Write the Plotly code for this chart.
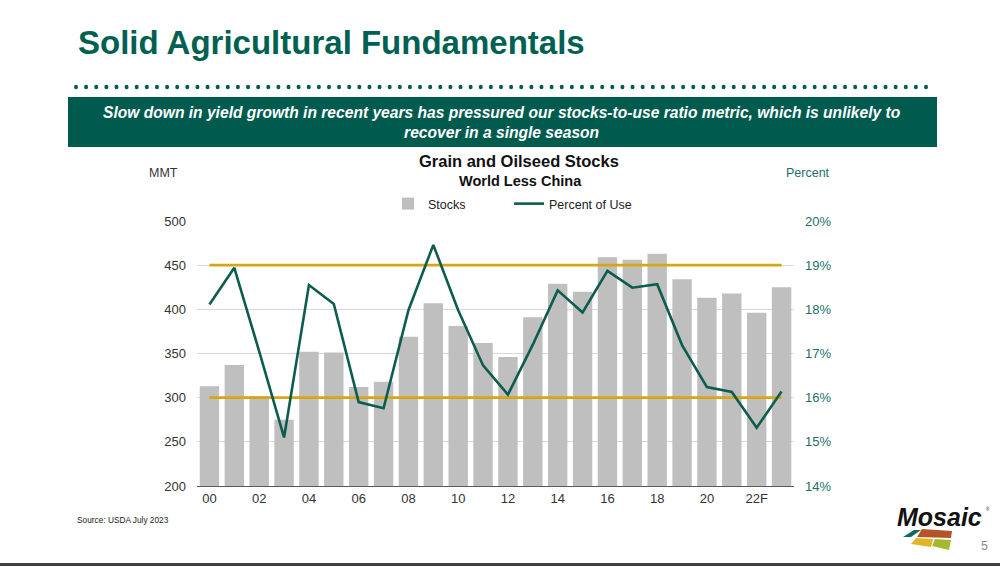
import plotly.graph_objects as go

# ---------------- data ----------------
years = list(range(2000, 2024))
stocks_mmt = [313, 337, 302, 275, 352, 351, 312, 318, 369, 407, 381, 362,
              346, 391, 429, 420, 459, 456, 463, 434, 413, 418, 396, 425]
pct_of_use = [18.11, 18.94, 17.05, 15.10, 18.55, 18.12, 15.90, 15.76, 17.98, 19.46, 17.98, 16.73,
              16.07, 17.20, 18.43, 17.93, 18.87, 18.49, 18.57, 17.19, 16.24, 16.13, 15.32, 16.14]
band_pct = [19.0, 16.0]   # reference band lines (percent axis)
tick_years = [2000, 2002, 2004, 2006, 2008, 2010, 2012, 2014, 2016, 2018, 2020, 2022]
tick_labels = ["00", "02", "04", "06", "08", "10", "12", "14", "16", "18", "20", "22F"]

# ---------------- layout geometry (pixels) ----------------
W, H = 1000, 566
L, R, T, B = 197, 794, 221, 486


def px(x):
    return (x - L) / (R - L)


def py(y):
    return (B - y) / (B - T)


GREEN = "#005B4F"
LINE = "#0E5C50"
GOLD = "#D6A615"
BAR = "#BFBFBF"
TEAL_TXT = "#1D6F6A"
FONT = "Liberation Sans, Arial, sans-serif"

fig = go.Figure()

fig.add_trace(go.Bar(x=years, y=stocks_mmt, name="Stocks", marker_color=BAR,
                     marker_line_width=0, yaxis="y", legend="legend"))
for v in band_pct:
    fig.add_trace(go.Scatter(x=[years[0], years[-1]], y=[v, v], mode="lines",
                             line=dict(color=GOLD, width=2.6), yaxis="y2",
                             showlegend=False, hoverinfo="skip"))
fig.add_trace(go.Scatter(x=years, y=pct_of_use, name="Percent of Use", mode="lines",
                         line=dict(color=LINE, width=2.6), yaxis="y2", legend="legend2"))

shapes = []
# dotted separator
n_dots = 85
x0d, x1d = 76, 926
for i in range(n_dots):
    cx = x0d + (x1d - x0d) * i / (n_dots - 1)
    shapes.append(dict(type="circle", xref="paper", yref="paper",
                       x0=px(cx - 2), x1=px(cx + 2), y0=py(87 + 2.3), y1=py(87 - 2.3),
                       fillcolor=GREEN, line_width=0, layer="above"))
# banner
shapes.append(dict(type="rect", xref="paper", yref="paper",
                   x0=px(68), x1=px(937), y0=py(147), y1=py(97),
                   fillcolor=GREEN, line_width=0, layer="below"))
# bottom bar
shapes.append(dict(type="rect", xref="paper", yref="paper",
                   x0=px(0), x1=px(1000), y0=py(566), y1=py(563),
                   fillcolor="#3F3F3F", line_width=0))


def poly(pts, color):
    d = "M " + " L ".join(f"{px(x):.5f},{py(y):.5f}" for x, y in pts) + " Z"
    return dict(type="path", xref="paper", yref="paper", path=d,
                fillcolor=color, line_width=0)


# logo tiles
shapes.append(poly([(903, 537), (914, 530), (921, 530), (911, 537)], "#0F6B5F"))
shapes.append(poly([(922, 529), (952, 531), (951, 538), (917, 537)], "#B4542A"))
shapes.append(poly([(916, 538), (933, 539), (931, 547), (911, 544)], "#E0B52A"))
shapes.append(poly([(935, 539), (951, 540), (949, 550), (932, 546)], "#A8B82E"))


def ann(text, x, y, size, color, xanchor="left", **kw):
    return dict(text=text, x=px(x), y=py(y), xref="paper", yref="paper",
                xanchor=xanchor, yanchor="middle", showarrow=False,
                font=dict(size=size, color=color, family=FONT), **kw)


annotations = [
    ann("<b>Solid Agricultural Fundamentals</b>", 76, 43, 33, "#006152"),
    ann("<b><i>Slow down in yield growth in recent years has pressured our stocks-to-use ratio metric, which is unlikely to<br>recover in a single season</i></b>",
        502, 122, 15.6, "white", xanchor="center", align="center"),
    ann("<b>Grain and Oilseed Stocks</b>", 519, 161, 16.5, "#111111", xanchor="center"),
    ann("<b>World Less China</b>", 520, 181, 14.5, "#111111", xanchor="center"),
    ann("MMT", 147, 173, 12.5, "#333333"),
    ann("Percent", 784, 173, 12.5, TEAL_TXT),
    ann("Source: USDA July 2023", 75, 520, 8.3, "#222222"),
    ann("<b><i>Mosaic</i></b>", 939, 517, 25, "#111111", xanchor="center"),
    ann("®", 988, 509, 4.5, "#111111", xanchor="center"),
    ann("5", 984, 546, 12.5, "#8C8C8C", xanchor="center"),
]

leg_common = dict(orientation="h", yanchor="middle", xanchor="left",
                  font=dict(size=12.5, color="#222222", family=FONT),
                  itemwidth=30, bgcolor="rgba(0,0,0,0)")

fig.update_layout(
    width=W, height=H,
    margin=dict(l=L, r=W - R, t=T, b=H - B, pad=0),
    paper_bgcolor="white", plot_bgcolor="white",
    font=dict(family=FONT, size=12.5, color="#333333"),
    bargap=0.22,
    showlegend=True,
    legend=dict(x=px(388), y=py(204), **leg_common),
    legend2=dict(x=px(509), y=py(204), **leg_common),
    xaxis=dict(range=[1999.5, 2023.5], tickmode="array", tickvals=tick_years,
               ticktext=tick_labels, showgrid=False, showline=True, linecolor="#595959",
               linewidth=1.3, ticks="", tickfont=dict(size=13, color="#333333"),
               zeroline=False),
    yaxis=dict(range=[200, 500], dtick=50, showgrid=True, gridcolor="#D9D9D9",
               gridwidth=1.2, zeroline=False, ticks="", ticklabelstandoff=10,
               tickfont=dict(size=13, color="#333333")),
    yaxis2=dict(range=[14, 20], dtick=1, overlaying="y", side="right", showgrid=False,
                zeroline=False, ticksuffix="%", ticks="", ticklabelstandoff=10,
                tickfont=dict(size=13, color=TEAL_TXT)),
    shapes=shapes,
    annotations=annotations,
)

fig.write_html("out.html")
